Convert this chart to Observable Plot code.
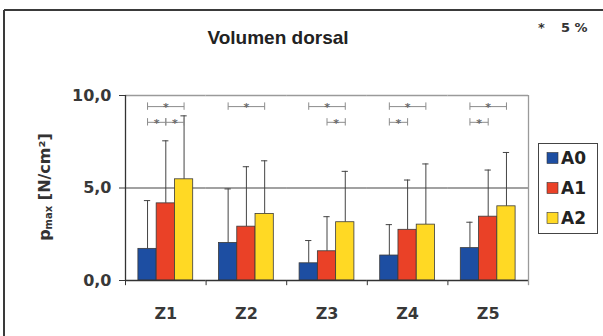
<!DOCTYPE html>
<html><head><meta charset="utf-8">
<script src="https://cdn.jsdelivr.net/npm/d3@7"></script>
<script src="https://cdn.jsdelivr.net/npm/@observablehq/plot@0.6"></script>
<style>body{margin:0;background:#fff} svg{display:block}</style>
</head><body><div id="chart"></div>
<script>
// ---- data ----
const zones = ["Z1", "Z2", "Z3", "Z4", "Z5"];
const series = ["A0", "A1", "A2"];
const meanA0 = [1.71, 2.03, 0.93, 1.35, 1.75];
const meanA1 = [4.17, 2.91, 1.58, 2.74, 3.45];
const meanA2 = [5.47, 3.60, 3.15, 3.02, 4.01];
const sdA0 = [2.61, 2.92, 1.23, 1.67, 1.40];
const sdA1 = [3.38, 3.24, 1.87, 2.69, 2.52];
const sdA2 = [3.43, 2.87, 2.75, 3.28, 2.91];
const yTicks = [0, 5, 10];
const chartTitle = "Volumen dorsal";
const sigStar = "*";
const sigNote = "5 %";
// significance brackets: zone, from-series, to-series, row
const bracketZone = ["Z1", "Z1", "Z1", "Z2", "Z3", "Z3", "Z4", "Z4", "Z5", "Z5"];
const bracketFrom = ["A0", "A0", "A1", "A0", "A0", "A1", "A0", "A0", "A0", "A0"];
const bracketTo   = ["A2", "A1", "A2", "A2", "A2", "A2", "A2", "A1", "A2", "A1"];
const bracketRow  = [1, 2, 2, 1, 1, 2, 1, 2, 1, 2];

// ---- styling / layout ----
const seriesColors = ["#1d4ea2", "#ea4127", "#ffd924"];
const W = 603, H = 336, mL = 125, mR = 75, mT = 95, mB = 56;
const facetW = (W - mL - mR) / zones.length;
const po = 0.706;
const step = facetW / (series.length + 2 * po);
const edge = po * step + step / 2;

const means = [meanA0, meanA1, meanA2];
const sds = [sdA0, sdA1, sdA2];
const data = [];
series.forEach((s, j) => zones.forEach((z, i) =>
  data.push({zone: z, series: s, mean: means[j][i], sd: sds[j][i]})));

const levelOf = r => 9.4 - (r - 1) * 0.85;
const brackets = bracketZone.map((z, i) => ({
  zone: z, from: bracketFrom[i], to: bracketTo[i], level: levelOf(bracketRow[i])
}));
const spanOf = b => series.indexOf(b.to) - series.indexOf(b.from);
const bracketColor = "#8c8c8c";

const plot = Plot.plot({
  width: W, height: H,
  marginLeft: mL, marginRight: mR, marginTop: mT, marginBottom: mB,
  style: {fontFamily: "DejaVu Sans, sans-serif", fontSize: "16px", fontWeight: "bold", color: "#383838", background: "transparent"},
  fx: {domain: zones, padding: 0, round: false, axis: "bottom", tickSize: 0, tickPadding: 27, label: null},
  x: {domain: series, paddingInner: 0, paddingOuter: po, round: false, axis: null},
  y: {domain: [0, 10], ticks: yTicks, tickFormat: d => d.toFixed(1).replace(".", ","), tickSize: 6, tickPadding: 8, label: null},
  color: {domain: series, range: seriesColors},
  marks: [
    Plot.ruleY([10], {stroke: "#9a9a9a", strokeWidth: 1.3}),
    Plot.ruleY([5], {stroke: "#444", strokeWidth: 1.2}),
    Plot.ruleX(data, {fx: "zone", x: "series", y1: "mean", y2: d => d.mean + d.sd, stroke: "#444", strokeWidth: 1}),
    Plot.tickY(data, {fx: "zone", x: "series", y: d => d.mean + d.sd, stroke: "#444", strokeWidth: 1, insetLeft: 6, insetRight: 6}),
    Plot.barY(data, {fx: "zone", x: "series", y: "mean", fill: "series", stroke: "#3a3a3a", strokeWidth: 0.8}),
    Plot.ruleY([0], {stroke: "#333", strokeWidth: 1.3}),
    Plot.ruleX(zones, {fx: d => d, x: () => series[0], dx: -edge, y1: -0.28, y2: 0, stroke: "#333"}),
    Plot.ruleX([zones[0]], {fx: d => d, x: () => series[0], dx: -edge, y1: 0, y2: 10, stroke: "#333", strokeWidth: 1.3}),
    Plot.ruleX([zones[zones.length - 1]], {fx: d => d, x: () => series[series.length - 1], dx: edge, y1: -0.28, y2: 10, stroke: "#9a9a9a", strokeWidth: 1.3}),
    // significance brackets
    Plot.link(brackets, {fx: "zone", x1: "from", x2: "to", y1: "level", y2: "level", stroke: bracketColor, strokeWidth: 1}),
    Plot.ruleX(brackets, {fx: "zone", x: "from", y1: d => d.level - 0.2, y2: d => d.level + 0.2, stroke: bracketColor}),
    Plot.ruleX(brackets, {fx: "zone", x: "to", y1: d => d.level - 0.2, y2: d => d.level + 0.2, stroke: bracketColor}),
    Plot.text(brackets.filter(b => spanOf(b) % 2 === 0), {
      fx: "zone", x: b => series[(series.indexOf(b.from) + series.indexOf(b.to)) / 2], y: "level", dy: 1,
      text: () => "*", fontSize: 11, fill: "#6a6a6a"}),
    Plot.text(brackets.filter(b => spanOf(b) % 2 === 1), {
      fx: "zone", x: "from", dx: step / 2, y: "level", dy: 1,
      text: () => "*", fontSize: 11, fill: "#6a6a6a"})
  ]
});

const svg = d3.select(plot);
// outer frame (top and left edges visible)
svg.append("line").attr("x1", 4).attr("x2", W).attr("y1", 10).attr("y2", 10).attr("stroke", "#3a3a3a").attr("stroke-width", 2);
svg.append("line").attr("x1", 4).attr("x2", 4).attr("y1", 10).attr("y2", H).attr("stroke", "#3a3a3a").attr("stroke-width", 2);

// title
svg.append("text").attr("x", 278).attr("y", 37).attr("dy", "0.35em").attr("text-anchor", "middle")
  .style("font-family", "Liberation Sans, Arial, sans-serif").style("font-size", "19px").style("font-weight", "bold")
  .attr("fill", "#222").text(chartTitle);

// significance note
const note = svg.append("text").attr("y", 32).attr("text-anchor", "start").style("font-family", "DejaVu Sans, sans-serif")
  .style("font-size", "13px").style("font-weight", "bold").attr("fill", "#333");
note.append("tspan").attr("x", 538).text(sigStar);
note.append("tspan").attr("x", 561).text(sigNote);

// y label p_max [N/cm²]
const yl = svg.append("text").attr("transform", "translate(44,187) rotate(-90)").attr("text-anchor", "middle")
  .attr("dy", "0.35em").style("font-family", "DejaVu Sans, sans-serif").style("font-size", "16px")
  .style("font-weight", "bold").attr("fill", "#333");
yl.append("tspan").text("p");
yl.append("tspan").style("font-size", "10px").attr("dy", "2px").text("max");
yl.append("tspan").attr("dy", "-2px").text(" [N/cm²]");

// legend
const lg = svg.append("g").attr("text-anchor", "start");
lg.append("rect").attr("x", 538.5).attr("y", 143.5).attr("width", 59).attr("height", 90)
  .attr("fill", "white").attr("stroke", "#444").attr("stroke-width", 1);
series.forEach((s, i) => {
  const cy = 158 + i * 30;
  lg.append("rect").attr("x", 547).attr("y", cy - 5.5).attr("width", 11).attr("height", 11)
    .attr("fill", seriesColors[i]).attr("stroke", "#333").attr("stroke-width", 0.6);
  lg.append("text").attr("x", 561).attr("y", cy).attr("dy", "0.36em").attr("text-anchor", "start")
    .style("font-family", "DejaVu Sans, sans-serif").style("font-size", "17px").style("font-weight", "bold")
    .attr("fill", "#222").text(s);
});

document.getElementById("chart").append(plot);
</script>
</body></html>
